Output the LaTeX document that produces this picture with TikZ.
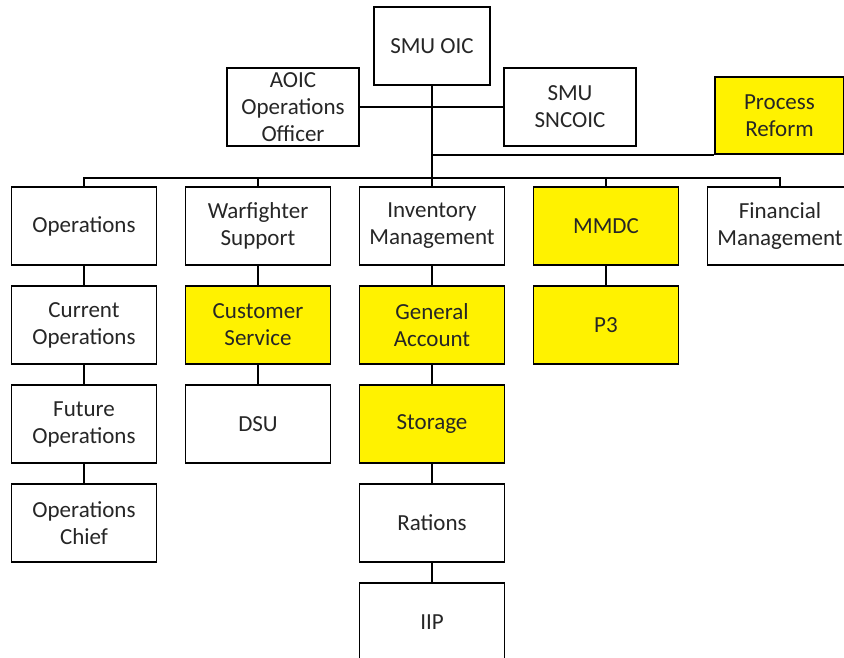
\documentclass[tikz,border=0pt]{standalone}
\usepackage{fontspec}
\setmainfont{Carlito}
\tikzset{orgbox/.style={draw,line width=1.8pt,fill=white,align=center,inner sep=0pt,
		minimum width=145pt,minimum height=78pt,text=black!85,
		font=\fontsize{23}{27}\selectfont},
	hilite/.style={fill=yellow},
	link/.style={draw,line width=1.2pt}}
\begin{document}
\begin{tikzpicture}[x=1pt,y=1pt,every node/.style={orgbox},
	edge from parent/.style={link},
	level/.style={level distance=99pt,
		edge from parent path={(\tikzparentnode) -- (\tikzchildnode)}},
	level 1/.style={level distance=180pt,sibling distance=174pt,
		edge from parent path={(\tikzparentnode.south) -- ++(0,-92pt) -| (\tikzchildnode.north)}}]
\useasboundingbox (0,0) rectangle (844,-657);
\node (oic) at (432,-46) [minimum width=116pt] {SMU OIC}
child {node (ops) {Operations}
	child {node (curops) {Current\\Operations}
		child {node (futops) {Future\\Operations}
			child {node (opschief) {Operations\\Chief}}
			}
		}
	}
child {node (wfs) {Warfighter\\Support}
	child {node[hilite] (custsvc) {Customer\\Service}
		child {node (dsu) {DSU}}
		}
	}
child {node (invmgmt) {Inventory\\Management}
	child {node[hilite] (genacct) {General\\Account}
		child {node[hilite] (storage) {Storage}
			child {node (rations) {Rations}
				child {node (iip) {IIP}}
				}
			}
		}
	}
child {node[hilite] (mmdc) {MMDC}
	child {node[hilite] (pthree) {P3}}
	}
child {node (finmgmt) {Financial\\Management}};
\node (aoic) at (293,-107) [minimum width=132pt] {AOIC\\Operations\\Officer};
\node (sncoic) at (570,-107) [minimum width=132pt] {SMU\\SNCOIC};
\node[hilite,minimum width=129pt,minimum height=77pt] (reform) at (779.5,-115.5) {Process\\Reform};
\draw[link] (aoic) -- (sncoic);
\draw[link] (oic.south |- reform.south) -- (reform.south west);
\end{tikzpicture}
\end{document}
